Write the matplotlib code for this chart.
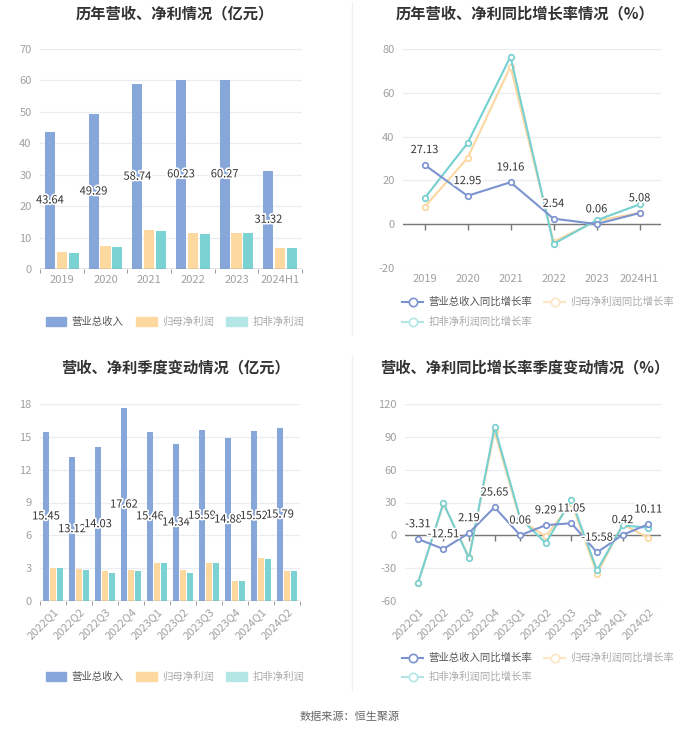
import numpy as np
import matplotlib
matplotlib.use("Agg")
import matplotlib.pyplot as plt
import matplotlib.patheffects as pe
from matplotlib import markers
from matplotlib.lines import Line2D
from matplotlib.patches import Patch

plt.rcParams['font.family'] = ['Noto Sans CJK SC', 'DejaVu Sans']
plt.rcParams['axes.unicode_minus'] = False

# -----------------------------
# Data
# -----------------------------
years = ["2019", "2020", "2021", "2022", "2023", "2024H1"]
rev_year = [43.64, 49.29, 58.74, 60.23, 60.27, 31.32]
np_year = [5.5, 7.2, 12.3, 11.4, 11.6, 6.7]
dnp_year = [5.0, 6.9, 12.1, 11.2, 11.4, 6.6]

rev_yoy = [27.13, 12.95, 19.16, 2.54, 0.06, 5.08]
np_yoy = [7.8, 30.2, 72.0, -8.0, 1.5, 5.2]
dnp_yoy = [11.8, 37.0, 76.5, -9.0, 1.8, 9.0]

quarters = ["2022Q1", "2022Q2", "2022Q3", "2022Q4", "2023Q1",
            "2023Q2", "2023Q3", "2023Q4", "2024Q1", "2024Q2"]
rev_q = [15.45, 13.12, 14.03, 17.62, 15.46, 14.34, 15.59, 14.88, 15.52, 15.79]
np_q = [3.05, 2.9, 2.7, 2.8, 3.5, 2.85, 3.5, 1.8, 3.9, 2.75]
dnp_q = [3.0, 2.8, 2.6, 2.75, 3.5, 2.6, 3.5, 1.85, 3.85, 2.75]

rev_q_yoy = [-3.31, -12.51, 2.19, 25.65, 0.06, 9.29, 11.05, -15.58, 0.42, 10.11]
np_q_yoy = [-44.0, 29.0, -20.0, 95.0, 14.0, -1.0, 30.0, -35.0, 10.0, -2.0]
dnp_q_yoy = [-44.0, 29.5, -21.0, 99.0, 15.5, -7.0, 32.5, -32.0, 9.0, 7.0]

bar_names = ["营业总收入", "归母净利润", "扣非净利润"]
line_names = ["营业总收入同比增长率", "归母净利润同比增长率", "扣非净利润同比增长率"]

# -----------------------------
# Style
# -----------------------------
C_BLUE = "#87a6d9"
C_YEL = "#fdd9a0"
C_CYAN = "#7ad2d3"
L_BLUE = "#7b93cf"
L_YEL = "#fcd7a0"
L_CYAN = "#76cfd0"
GRID = "#e9ecf2"
TICK = "#a0a0a0"
TITLE = "#333333"

W, H = 700, 734
fig = plt.figure(figsize=(W / 100, H / 100), dpi=100)


def ax_at(x0, x1, ytop, ybot):
    return fig.add_axes([x0 / W, 1 - ybot / H, (x1 - x0) / W, (ybot - ytop) / H])


def base_style(ax):
    for s in ["top", "right", "left", "bottom"]:
        ax.spines[s].set_visible(False)
    ax.grid(axis="y", color=GRID, lw=0.9)
    ax.set_axisbelow(True)
    ax.tick_params(axis="y", length=0, colors=TICK, labelsize=8, pad=6)
    ax.tick_params(axis="x", colors=TICK, labelsize=8, length=0, pad=4)


halo = [pe.withStroke(linewidth=2.5, foreground="white")]


def set_cats(ax, cats, rotate):
    x = np.arange(len(cats))
    ax.set_xticks(x)
    if rotate:
        ax.set_xticklabels(cats, rotation=45, ha="right", rotation_mode="anchor")
    else:
        ax.set_xticklabels(cats)


def bar_panel(ax, cats, a, b, c, ylim, yticks, rotate=False):
    x = np.arange(len(cats))
    w = 0.23
    off = 0.27
    ax.bar(x - off, a, w, color=C_BLUE, zorder=2)
    ax.bar(x, b, w, color=C_YEL, zorder=2)
    ax.bar(x + off, c, w, color=C_CYAN, zorder=2)
    for xi, v in zip(x, a):
        ax.text(xi - off, v / 2, f"{v:.2f}", ha="center", va="center",
                fontsize=8, color="#333333", path_effects=halo, zorder=3)
    ax.set_xlim(-0.5, len(cats) - 0.5)
    ax.set_ylim(*ylim)
    ax.set_yticks(yticks)
    base_style(ax)
    ax.axhline(0, color="#888888", lw=1, zorder=2)
    set_cats(ax, cats, rotate)
    ax.set_xticks(np.arange(len(cats) + 1) - 0.5, minor=True)
    ax.tick_params(axis="x", which="minor", length=3, color="#888888")


def line_panel(ax, cats, a, b, c, ylim, yticks, rotate=False):
    x = np.arange(len(cats))
    mk = dict(marker="o", markersize=4, markerfacecolor="white", markeredgewidth=1.2)
    ax.plot(x, b, color=L_YEL, lw=1.5, zorder=3, **mk)
    ax.plot(x, c, color=L_CYAN, lw=1.5, zorder=4, **mk)
    ax.plot(x, a, color=L_BLUE, lw=1.5, zorder=5, **mk)
    for xi, v in zip(x, a):
        ax.annotate(f"{v:.2f}", (xi, v), xytext=(0, 7), textcoords="offset points",
                    ha="center", va="bottom", fontsize=8, color="#333333",
                    path_effects=halo, zorder=6)
    ax.set_xlim(-0.5, len(cats) - 0.5)
    ax.set_ylim(*ylim)
    ax.set_yticks(yticks)
    base_style(ax)
    ax.axhline(0, color="#777777", lw=1, zorder=2)
    # small tick marks hanging from the zero line
    ax.plot(x, np.zeros(len(cats)), ls="none", marker=markers.TICKDOWN,
            markersize=4, color="#777777", zorder=2)
    set_cats(ax, cats, rotate)


def bar_legend(y):
    handles = [Patch(color=C_BLUE), Patch(color=C_YEL), Patch(color="#b4e6e6")]
    leg = fig.legend(handles, bar_names, loc="center", bbox_to_anchor=(175 / W, 1 - y / H),
                     ncol=3, frameon=False, fontsize=7.5, handlelength=2.0, handleheight=1.0,
                     columnspacing=1.2, handletextpad=0.5)
    for i, t in enumerate(leg.get_texts()):
        t.set_color("#555555" if i == 0 else "#aaaaaa")


def line_legend(y1, y2):
    def h(col):
        return Line2D([0], [0], color=col, lw=1.5, marker="o", markersize=6,
                      markerfacecolor="white", markeredgewidth=1.2)
    leg = fig.legend([h(L_BLUE), h("#fde6c4")], line_names[:2], loc="center left",
                     bbox_to_anchor=(398 / W, 1 - y1 / H), ncol=2, frameon=False,
                     fontsize=7.5, handlelength=2.0, columnspacing=1.2, handletextpad=0.5,
                     borderaxespad=0)
    for i, t in enumerate(leg.get_texts()):
        t.set_color("#555555" if i == 0 else "#aaaaaa")
    leg2 = fig.legend([h("#b4e6e6")], line_names[2:], loc="center left",
                      bbox_to_anchor=(398 / W, 1 - y2 / H), frameon=False,
                      fontsize=7.5, handlelength=2.0, handletextpad=0.5, borderaxespad=0)
    leg2.get_texts()[0].set_color("#aaaaaa")


# Panel 1
ax1 = ax_at(40, 302, 49, 269)
bar_panel(ax1, years, rev_year, np_year, dnp_year, (0, 70), range(0, 71, 10))
fig.text(175 / W, 1 - 13 / H, "历年营收、净利情况（亿元）", ha="center", va="center",
         fontsize=11, fontweight="bold", color=TITLE)
bar_legend(322)

# Panel 2
ax2 = ax_at(403, 661, 49, 268)
line_panel(ax2, years, rev_yoy, np_yoy, dnp_yoy, (-20, 80), range(-20, 81, 20))
fig.text(525 / W, 1 - 13 / H, "历年营收、净利同比增长率情况（%）", ha="center", va="center",
         fontsize=11, fontweight="bold", color=TITLE)
line_legend(302, 322)

# Panel 3
ax3 = ax_at(40, 300, 404, 601)
bar_panel(ax3, quarters, rev_q, np_q, dnp_q, (0, 18), range(0, 19, 3), rotate=True)
fig.text(175 / W, 1 - 367 / H, "营收、净利季度变动情况（亿元）", ha="center", va="center",
         fontsize=11, fontweight="bold", color=TITLE)
bar_legend(677)

# Panel 4
ax4 = ax_at(405, 661, 404, 601)
line_panel(ax4, quarters, rev_q_yoy, np_q_yoy, dnp_q_yoy, (-60, 120), range(-60, 121, 30), rotate=True)
fig.text(525 / W, 1 - 367 / H, "营收、净利同比增长率季度变动情况（%）", ha="center", va="center",
         fontsize=11, fontweight="bold", color=TITLE)
line_legend(658, 677)

# dividers
fig.add_artist(Line2D([352 / W, 352 / W], [1 - 2 / H, 1 - 335 / H], color="#f0f0f0", lw=1))
fig.add_artist(Line2D([352 / W, 352 / W], [1 - 355 / H, 1 - 690 / H], color="#f0f0f0", lw=1))

fig.text(0.5, 1 - 717 / H, "数据来源：恒生聚源", ha="center", va="center",
         fontsize=8, color="#666666")

fig.savefig("out.png", dpi=100, facecolor="white")
